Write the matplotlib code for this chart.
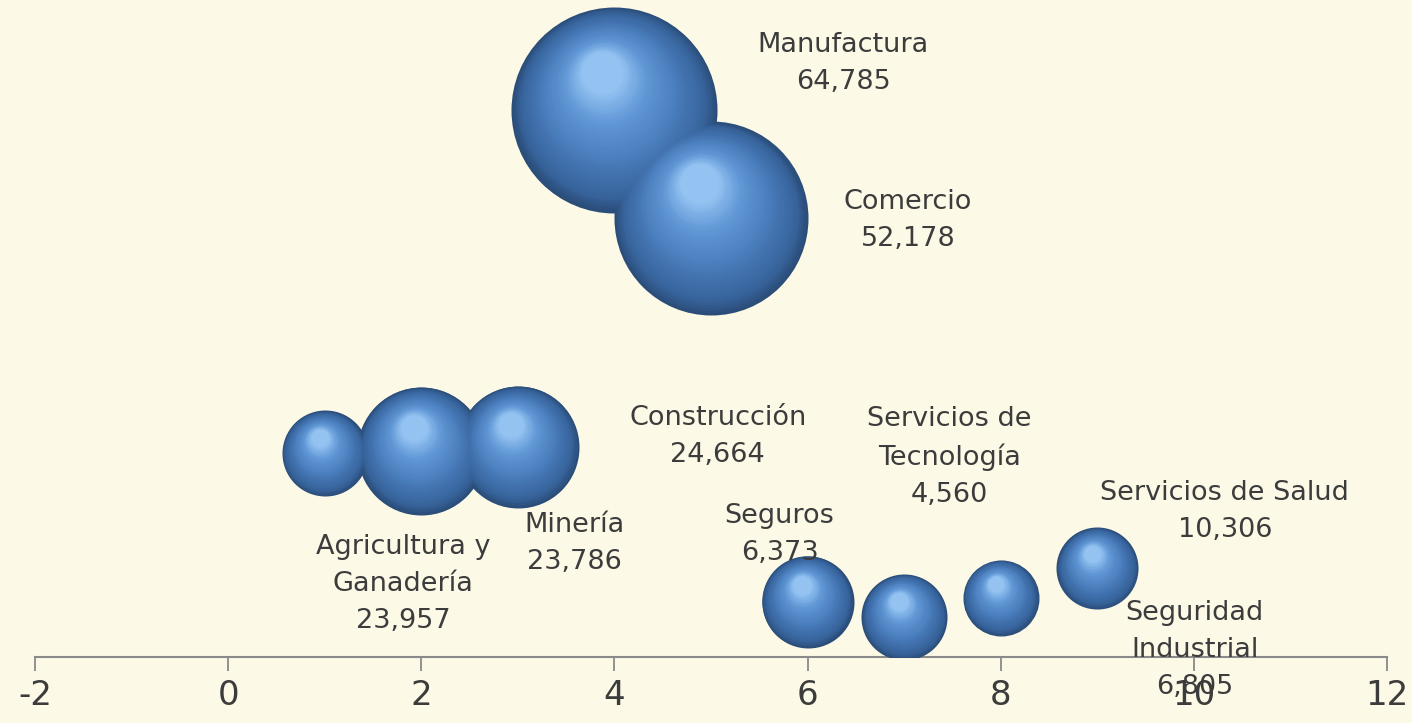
"""Bubble chart of sectors (spheres with shading)."""

import matplotlib
matplotlib.use("Agg")
import matplotlib.pyplot as plt
import matplotlib.transforms as mtransforms
from matplotlib.colors import LinearSegmentedColormap
import numpy as np

# data
x_pos = [1, 2, 3, 4, 5, 6, 7, 8, 9]
y_pos = [31.0, 31.4, 32.0, 83.3, 66.8, 8.4, 6.1, 9.0, 13.5]
bubble_size = [11290, 25010, 22720, 64785, 57450, 12920, 11290, 8820, 10270]

label_names = ["Manufactura", "Comercio", "Construcción", "Servicios de\nTecnología",
               "Seguros", "Servicios de Salud", "Seguridad\nIndustrial",
               "Agricultura y\nGanadería", "Minería"]
label_values = [64785, 52178, 24664, 4560, 6373, 10306, 6805, 23957, 23786]

# where the (dragged) data labels sit, in data coords
label_xy = [(6.37, 90.3), (7.04, 66.5), (5.07, 33.5), (7.47, 30.4), (5.71, 18.6),
            (10.32, 22.2), (10.01, 1.1), (1.81, 11.1), (3.59, 17.2)]

BG = "#fcf9e6"
TXT = "#3c3c3c"
sphere_cmap = LinearSegmentedColormap.from_list(
    "sphere", [(0.0, "#2b4d79"), (0.12, "#37639b"), (0.4, "#477ab8"),
               (0.75, "#6198d6"), (1.0, "#94c3f2")])

plt.rcParams["axes.unicode_minus"] = False


def drawSphere(ax, fig, x, y, s, layers=45):
    """Nested offset circles give the shaded ball look."""
    rad = np.sqrt(s) / 2.0  # radius in points
    hx, hy = -0.12 * rad, 0.36 * rad
    for k in range(layers):
        t = k / (layers - 1)
        frac = 1 - 0.8 * t
        off = mtransforms.ScaledTranslation(t * hx / 72, t * hy / 72, fig.dpi_scale_trans)
        ax.scatter([x], [y], s=s * frac ** 2, color=sphere_cmap(t), linewidths=0,
                   transform=ax.transData + off, zorder=2 + k * 0.001)


def plotBubbles():
    fig = plt.figure(figsize=(14.12, 7.23), dpi=100)
    fig.patch.set_facecolor(BG)
    ax = fig.add_axes([35 / 1412, 66 / 723, 1352 / 1412, 657 / 723])
    ax.set_facecolor(BG)
    ax.set_xlim(-2, 12)
    ax.set_ylim(0, 100)

    scale = 22000 / 64785
    for x, y, b in zip(x_pos, y_pos, bubble_size):
        drawSphere(ax, fig, x, y, b * scale)

    for name, val, (lx, ly) in zip(label_names, label_values, label_xy):
        ax.text(lx, ly, "%s\n%s" % (name, format(val, ",")), ha="center", va="center",
                fontsize=19.5, color=TXT, linespacing=1.55, zorder=10)

    for side in ["left", "right", "top"]:
        ax.spines[side].set_visible(False)
    ax.spines["bottom"].set_color("#8a8a8a")
    ax.spines["bottom"].set_linewidth(1.5)
    ax.spines["bottom"].set_zorder(1)
    ax.set_xticks(np.arange(-2, 13, 2))
    ax.tick_params(axis="x", direction="out", length=10, width=1.3, color="#8a8a8a",
                   labelsize=24.5, labelcolor=TXT, pad=6)
    ax.set_yticks([])
    fig.savefig("out.png", dpi=100, facecolor=BG)


if __name__ == "__main__":
    plotBubbles()
